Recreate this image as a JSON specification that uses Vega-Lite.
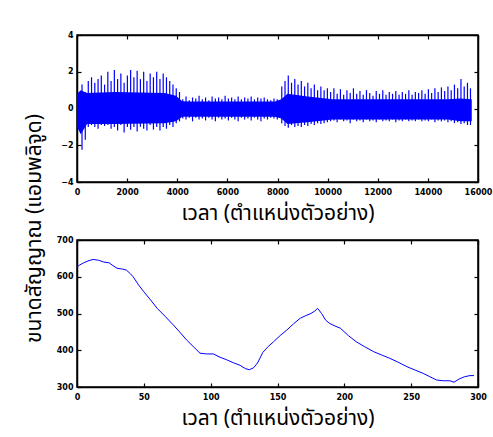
{
  "$schema": "https://vega.github.io/schema/vega-lite/v6.json",
  "autosize": {"type": "pad"},
  "padding": {"left": 22, "top": 30, "right": 1, "bottom": 10},
  "background": "white",
  "spacing": -112,
  "datasets": {
    "core": [
      {"s": 0, "lo": -1.0, "hi": 0.8},
      {"s": 150, "lo": -1.4, "hi": 1.0},
      {"s": 400, "lo": -0.85, "hi": 0.85},
      {"s": 1500, "lo": -0.85, "hi": 0.9},
      {"s": 3500, "lo": -0.8, "hi": 0.85},
      {"s": 3950, "lo": -0.7, "hi": 0.7},
      {"s": 4200, "lo": -0.45, "hi": 0.4},
      {"s": 4500, "lo": -0.45, "hi": 0.38},
      {"s": 7900, "lo": -0.45, "hi": 0.38},
      {"s": 8150, "lo": -0.55, "hi": 0.5},
      {"s": 8400, "lo": -0.85, "hi": 0.8},
      {"s": 9200, "lo": -0.75, "hi": 0.65},
      {"s": 10200, "lo": -0.6, "hi": 0.5},
      {"s": 14800, "lo": -0.6, "hi": 0.5},
      {"s": 15300, "lo": -0.7, "hi": 0.55},
      {"s": 15750, "lo": -0.7, "hi": 0.5}
    ],
    "spikes": [
      {"s": 200, "lo": -2.25, "hi": 1.3},
      {"s": 330, "lo": -1.7, "hi": 0.9},
      {"s": 450, "lo": -1.0, "hi": 1.5},
      {"s": 580, "lo": -0.9, "hi": 1.7},
      {"s": 710, "lo": -1.0, "hi": 1.4},
      {"s": 840, "lo": -1.1, "hi": 1.6},
      {"s": 970, "lo": -0.9, "hi": 1.8},
      {"s": 1100, "lo": -0.95, "hi": 1.3},
      {"s": 1230, "lo": -0.9, "hi": 2.0},
      {"s": 1360, "lo": -1.1, "hi": 1.5},
      {"s": 1490, "lo": -1.0, "hi": 2.1},
      {"s": 1620, "lo": -1.2, "hi": 1.6},
      {"s": 1750, "lo": -0.9, "hi": 1.9},
      {"s": 1880, "lo": -1.3, "hi": 1.4},
      {"s": 2010, "lo": -1.0, "hi": 1.8},
      {"s": 2140, "lo": -1.15, "hi": 2.1},
      {"s": 2270, "lo": -1.0, "hi": 1.7},
      {"s": 2400, "lo": -1.25, "hi": 2.05},
      {"s": 2530, "lo": -1.0, "hi": 1.6},
      {"s": 2660, "lo": -1.1, "hi": 2.0},
      {"s": 2790, "lo": -1.2, "hi": 1.5},
      {"s": 2920, "lo": -0.9, "hi": 1.9},
      {"s": 3050, "lo": -1.15, "hi": 1.7},
      {"s": 3180, "lo": -1.0, "hi": 2.0},
      {"s": 3310, "lo": -1.2, "hi": 1.6},
      {"s": 3440, "lo": -1.0, "hi": 1.9},
      {"s": 3570, "lo": -1.1, "hi": 1.7},
      {"s": 3700, "lo": -0.9, "hi": 1.5},
      {"s": 3830, "lo": -1.0, "hi": 1.3},
      {"s": 3960, "lo": -0.8, "hi": 1.1},
      {"s": 4090, "lo": -0.7, "hi": 0.9},
      {"s": 4220, "lo": -0.55, "hi": 0.5},
      {"s": 4350, "lo": -0.6, "hi": 0.65},
      {"s": 4480, "lo": -0.5, "hi": 0.45},
      {"s": 4610, "lo": -0.7, "hi": 0.6},
      {"s": 4740, "lo": -0.5, "hi": 0.55},
      {"s": 4870, "lo": -0.6, "hi": 0.7},
      {"s": 5000, "lo": -0.55, "hi": 0.5},
      {"s": 5130, "lo": -0.65, "hi": 0.6},
      {"s": 5260, "lo": -0.5, "hi": 0.45},
      {"s": 5390, "lo": -0.6, "hi": 0.65},
      {"s": 5520, "lo": -0.7, "hi": 0.55},
      {"s": 5650, "lo": -0.5, "hi": 0.6},
      {"s": 5780, "lo": -0.6, "hi": 0.5},
      {"s": 5910, "lo": -0.55, "hi": 0.7},
      {"s": 6040, "lo": -0.65, "hi": 0.55},
      {"s": 6170, "lo": -0.5, "hi": 0.6},
      {"s": 6300, "lo": -0.6, "hi": 0.5},
      {"s": 6430, "lo": -0.7, "hi": 0.65},
      {"s": 6560, "lo": -0.5, "hi": 0.5},
      {"s": 6690, "lo": -0.6, "hi": 0.6},
      {"s": 6820, "lo": -0.55, "hi": 0.55},
      {"s": 6950, "lo": -0.65, "hi": 0.65},
      {"s": 7080, "lo": -0.5, "hi": 0.5},
      {"s": 7210, "lo": -0.6, "hi": 0.6},
      {"s": 7340, "lo": -0.7, "hi": 0.55},
      {"s": 7470, "lo": -0.55, "hi": 0.6},
      {"s": 7600, "lo": -0.6, "hi": 0.5},
      {"s": 7730, "lo": -0.5, "hi": 0.45},
      {"s": 7860, "lo": -0.55, "hi": 0.55},
      {"s": 7990, "lo": -0.6, "hi": 0.5},
      {"s": 8170, "lo": -0.8, "hi": 1.2},
      {"s": 8300, "lo": -0.95, "hi": 1.5},
      {"s": 8430, "lo": -1.05, "hi": 1.8},
      {"s": 8560, "lo": -0.9, "hi": 1.4},
      {"s": 8690, "lo": -1.0, "hi": 1.6},
      {"s": 8820, "lo": -0.95, "hi": 1.3},
      {"s": 8950, "lo": -1.0, "hi": 1.5},
      {"s": 9080, "lo": -0.9, "hi": 1.2},
      {"s": 9210, "lo": -0.95, "hi": 1.4},
      {"s": 9340, "lo": -0.85, "hi": 1.1},
      {"s": 9470, "lo": -0.9, "hi": 1.3},
      {"s": 9600, "lo": -0.8, "hi": 1.0},
      {"s": 9730, "lo": -0.85, "hi": 1.2},
      {"s": 9860, "lo": -0.8, "hi": 1.0},
      {"s": 9990, "lo": -0.75, "hi": 1.1},
      {"s": 10120, "lo": -0.7, "hi": 0.9},
      {"s": 10250, "lo": -0.65, "hi": 1.1},
      {"s": 10380, "lo": -0.75, "hi": 0.8},
      {"s": 10510, "lo": -0.6, "hi": 1.05},
      {"s": 10640, "lo": -0.7, "hi": 0.75},
      {"s": 10770, "lo": -0.65, "hi": 1.0},
      {"s": 10900, "lo": -0.8, "hi": 0.85},
      {"s": 11030, "lo": -0.6, "hi": 1.1},
      {"s": 11160, "lo": -0.7, "hi": 0.8},
      {"s": 11290, "lo": -0.65, "hi": 0.95},
      {"s": 11420, "lo": -0.75, "hi": 0.75},
      {"s": 11550, "lo": -0.6, "hi": 1.0},
      {"s": 11680, "lo": -0.7, "hi": 0.85},
      {"s": 11810, "lo": -0.65, "hi": 0.7},
      {"s": 11940, "lo": -0.75, "hi": 0.95},
      {"s": 12070, "lo": -0.6, "hi": 0.8},
      {"s": 12200, "lo": -0.7, "hi": 1.0},
      {"s": 12330, "lo": -0.65, "hi": 0.75},
      {"s": 12460, "lo": -0.7, "hi": 0.9},
      {"s": 12590, "lo": -0.6, "hi": 0.8},
      {"s": 12720, "lo": -0.75, "hi": 0.95},
      {"s": 12850, "lo": -0.65, "hi": 0.75},
      {"s": 12980, "lo": -0.7, "hi": 0.9},
      {"s": 13110, "lo": -0.6, "hi": 0.8},
      {"s": 13240, "lo": -0.7, "hi": 1.0},
      {"s": 13370, "lo": -0.65, "hi": 0.75},
      {"s": 13500, "lo": -0.7, "hi": 0.9},
      {"s": 13630, "lo": -0.6, "hi": 0.85},
      {"s": 13760, "lo": -0.7, "hi": 1.0},
      {"s": 13890, "lo": -0.65, "hi": 0.8},
      {"s": 14020, "lo": -0.7, "hi": 1.05},
      {"s": 14150, "lo": -0.6, "hi": 0.85},
      {"s": 14280, "lo": -0.75, "hi": 1.1},
      {"s": 14410, "lo": -0.65, "hi": 0.9},
      {"s": 14540, "lo": -0.7, "hi": 1.15},
      {"s": 14670, "lo": -0.65, "hi": 0.95},
      {"s": 14800, "lo": -0.75, "hi": 1.2},
      {"s": 14930, "lo": -0.7, "hi": 1.0},
      {"s": 15060, "lo": -0.8, "hi": 1.3},
      {"s": 15190, "lo": -0.75, "hi": 1.1},
      {"s": 15320, "lo": -0.85, "hi": 1.6},
      {"s": 15450, "lo": -0.8, "hi": 1.2},
      {"s": 15580, "lo": -0.9, "hi": 1.4},
      {"s": 15700, "lo": -0.9, "hi": 1.1}
    ],
    "size": [
      {"t": 0, "v": 627}, {"t": 2, "v": 632}, {"t": 5, "v": 638}, {"t": 9, "v": 644},
      {"t": 12, "v": 647}, {"t": 16, "v": 645}, {"t": 20, "v": 640}, {"t": 24, "v": 638},
      {"t": 27, "v": 630}, {"t": 30, "v": 623}, {"t": 34, "v": 621}, {"t": 37, "v": 618},
      {"t": 40, "v": 608}, {"t": 42, "v": 600}, {"t": 46, "v": 578}, {"t": 50, "v": 559},
      {"t": 55, "v": 537}, {"t": 60, "v": 514}, {"t": 66, "v": 492}, {"t": 72, "v": 469},
      {"t": 77, "v": 449}, {"t": 82, "v": 428}, {"t": 87, "v": 410}, {"t": 92, "v": 392},
      {"t": 97, "v": 390}, {"t": 102, "v": 390}, {"t": 107, "v": 381}, {"t": 112, "v": 374},
      {"t": 117, "v": 366}, {"t": 122, "v": 359}, {"t": 126, "v": 350}, {"t": 129, "v": 347},
      {"t": 132, "v": 352}, {"t": 135, "v": 365}, {"t": 139, "v": 394}, {"t": 143, "v": 410},
      {"t": 147, "v": 423}, {"t": 152, "v": 440}, {"t": 157, "v": 455}, {"t": 162, "v": 472},
      {"t": 167, "v": 487}, {"t": 171, "v": 494}, {"t": 175, "v": 500}, {"t": 178, "v": 507},
      {"t": 180, "v": 514}, {"t": 183, "v": 500}, {"t": 186, "v": 482}, {"t": 189, "v": 473},
      {"t": 193, "v": 466}, {"t": 197, "v": 460}, {"t": 203, "v": 440}, {"t": 209, "v": 423},
      {"t": 215, "v": 410}, {"t": 222, "v": 396}, {"t": 228, "v": 387}, {"t": 234, "v": 378},
      {"t": 240, "v": 368}, {"t": 247, "v": 355}, {"t": 253, "v": 346}, {"t": 259, "v": 337},
      {"t": 264, "v": 328}, {"t": 269, "v": 319}, {"t": 274, "v": 317}, {"t": 279, "v": 317},
      {"t": 282, "v": 313}, {"t": 286, "v": 322}, {"t": 290, "v": 328}, {"t": 294, "v": 331},
      {"t": 297, "v": 331}
    ]
  },
  "vconcat": [
    {
      "width": 401,
      "height": 147,
      "resolve": {"axis": {"x": "independent", "y": "independent"}},
      "layer": [
        {
          "data": {"name": "core"},
          "mark": {"type": "area", "color": "#0000FF", "opacity": 1},
          "encoding": {
            "x": {"field": "s", "type": "quantitative", "scale": {"domain": [0, 16000], "nice": false},
              "axis": {"orient": "bottom", "values": [0, 2000, 4000, 6000, 8000, 10000, 12000, 14000, 16000], "format": "d", "title": "เวลา (ตำแหน่งตัวอย่าง)"}},
            "y": {"field": "lo", "type": "quantitative", "scale": {"domain": [-4, 4], "nice": false},
              "axis": {"orient": "left", "values": [-4, -2, 0, 2, 4], "format": "d", "title": null}},
            "y2": {"field": "hi"}
          }
        },
        {
          "data": {"name": "spikes"},
          "mark": {"type": "rule", "color": "#0000FF", "strokeWidth": 1.2},
          "encoding": {
            "x": {"field": "s", "type": "quantitative",
              "axis": {"orient": "top", "values": [0, 2000, 4000, 6000, 8000, 10000, 12000, 14000, 16000], "labels": false, "title": null}},
            "y": {"field": "lo", "type": "quantitative",
              "axis": {"orient": "right", "values": [-4, -2, 0, 2, 4], "labels": false, "title": null}},
            "y2": {"field": "hi"}
          }
        }
      ]
    },
    {
      "width": 401,
      "height": 147,
      "data": {"name": "size"},
      "resolve": {"axis": {"x": "independent", "y": "independent"}},
      "layer": [
        {
          "mark": {"type": "line", "color": "#0000FF", "strokeWidth": 1},
          "encoding": {
            "x": {"field": "t", "type": "quantitative", "scale": {"domain": [0, 300], "nice": false},
              "axis": {"orient": "bottom", "values": [0, 50, 100, 150, 200, 250, 300], "format": "d", "title": "เวลา (ตำแหน่งตัวอย่าง)"}},
            "y": {"field": "v", "type": "quantitative", "scale": {"domain": [300, 700], "nice": false, "zero": false},
              "axis": {"orient": "left", "values": [300, 400, 500, 600, 700], "format": "d", "title": "ขนาดสัญญาณ (แอมพลิจูด)", "titleX": -33, "titleY": -12}}
          }
        },
        {
          "mark": {"type": "line", "color": "#0000FF", "strokeWidth": 1, "opacity": 0},
          "encoding": {
            "x": {"field": "t", "type": "quantitative",
              "axis": {"orient": "top", "values": [0, 50, 100, 150, 200, 250, 300], "labels": false, "title": null}},
            "y": {"field": "v", "type": "quantitative",
              "axis": {"orient": "right", "values": [300, 400, 500, 600, 700], "labels": false, "title": null}}
          }
        }
      ]
    }
  ],
  "config": {
    "view": {"stroke": "#000000", "strokeWidth": 1.5},
    "axis": {
      "grid": false,
      "domain": true,
      "ticks": true,
      "zindex": 1,
      "domainColor": "#000000",
      "domainWidth": 1.5,
      "tickColor": "#000000",
      "tickSize": -4,
      "tickWidth": 1.2,
      "labelFont": "DejaVu Sans",
      "labelFontWeight": "bold",
      "labelFontSize": 8,
      "labelColor": "#000000",
      "labelFlush": false,
      "labelOverlap": false,
      "labelPadding": 10,
      "titleFont": "Noto Sans Thai, Tahoma, DejaVu Sans, sans-serif",
      "titleFontWeight": "normal",
      "titleFontSize": 21,
      "titleColor": "#000000",
      "titlePadding": 6
    },
    "axisY": {"labelPadding": 8}
  }
}
